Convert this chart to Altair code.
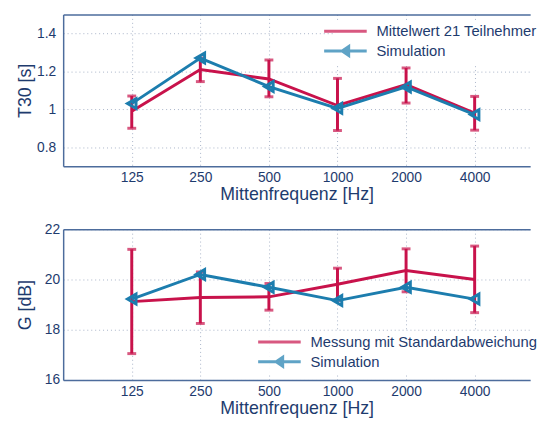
import altair as alt
import pandas as pd

# ---- data ----
freqs = [125, 250, 500, 1000, 2000, 4000]

t30_mean = [0.99, 1.21, 1.16, 1.02, 1.13, 0.98]
t30_lo = [0.90, 1.146, 1.066, 0.888, 1.033, 0.89]
t30_hi = [1.07, 1.27, 1.26, 1.163, 1.218, 1.068]
t30_sim = [1.03, 1.27, 1.12, 1.005, 1.118, 0.972]

g_mean = [19.12, 19.28, 19.31, 19.81, 20.36, 20.0]
g_lo = [17.05, 18.25, 18.78, 19.17, 19.51, 18.68]
g_hi = [21.2, 20.3, 19.84, 20.45, 21.22, 21.33]
g_sim = [19.22, 20.2, 19.69, 19.16, 19.69, 19.22]

top_names = ["Mittelwert 21 Teilnehmer", "Simulation"]
bot_names = ["Messung mit Standardabweichung", "Simulation"]

t30_ticks = [0.8, 1.0, 1.2, 1.4]
g_ticks = [16, 18, 20, 22]

# ---- style ----
RED = "#C8124B"
BLUE = "#1C7DAE"
TXT = "#1E3B6E"
AX = "#4D6C9C"
GRID = "#A9B4C8"
FONT = "Liberation Sans"

LINE_PATH = "M-3.6,0L3.6,0"
SIM_PATH = "M-3.6,0L3.6,0M-0.55,0L0.55,-0.75L0.55,0.75Z"

PW = 474
XDOM = [62.5, 7010]


def panel(mean, lo, hi, sim, names, ytitle, ydom, yticks, leg_x, leg_y, ylabpad, ph):
    df = pd.DataFrame({"f": freqs, "mean": mean, "lo": lo, "hi": hi, "sim": sim})
    xs = alt.Scale(type="log", domain=XDOM, nice=False)
    xa = alt.Axis(
        values=freqs, format="d", title="Mittenfrequenz [Hz]",
        labelPadding=5, minExtent=19, maxExtent=19, titlePadding=1,
    )
    xa_top = alt.Axis(orient="top", labels=False, ticks=False, grid=False, title=None,
                      minExtent=0, maxExtent=0)
    ys = alt.Scale(domain=ydom, nice=False, zero=False)
    ya = alt.Axis(values=yticks, format="~g", title=ytitle, labelPadding=ylabpad,
                  minExtent=25, maxExtent=25, titlePadding=4)

    def X(axis=None):
        return alt.X("f:Q", scale=xs, axis=axis)

    def Y(field):
        return alt.Y(f"{field}:Q", scale=ys, axis=ya)

    base = alt.Chart(df)
    err = base.mark_rule(color=RED, strokeWidth=3).encode(x=X(xa), y=Y("lo"), y2="hi:Q")
    cap_lo = base.mark_tick(color=RED, orient="horizontal", size=9, thickness=3).encode(x=X(), y=Y("lo"))
    cap_hi = base.mark_tick(color=RED, orient="horizontal", size=9, thickness=3).encode(x=X(), y=Y("hi"))
    mean_line = base.mark_line(color=RED, strokeWidth=3).encode(x=X(), y=Y("mean"))
    sim_line = base.mark_line(color=BLUE, strokeWidth=3).encode(x=X(xa_top), y=Y("sim"))
    sim_pts = base.mark_point(
        shape="triangle-left", filled=False, color=BLUE, strokeWidth=3, size=100, opacity=1
    ).encode(x=X(), y=Y("sim"))

    leg = dict(
        title=None,
        orient="none",
        legendX=leg_x,
        legendY=leg_y,
        symbolSize=144,
        symbolStrokeWidth=3,
        labelOffset=24,
        labelFontSize=15,
        labelColor=TXT,
        labelFont=FONT,
        labelLimit=400,
        rowPadding=1,
        padding=3,
        fillColor="white",
    )
    leg_df = pd.DataFrame({"series": names})
    legend = (
        alt.Chart(leg_df)
        .mark_point(filled=False, strokeWidth=3)
        .encode(
            color=alt.Color(
                "series:N",
                scale=alt.Scale(domain=names, range=[RED, BLUE]),
                legend=alt.Legend(**leg),
            ),
            shape=alt.Shape(
                "series:N",
                scale=alt.Scale(domain=names, range=[LINE_PATH, SIM_PATH]),
                legend=alt.Legend(**leg),
            ),
        )
        .transform_filter("false")
    )

    return (
        alt.layer(err, cap_lo, cap_hi, mean_line, sim_line, sim_pts, legend)
        .resolve_axis(x="independent")
        .properties(width=PW, height=ph)
    )


top = panel(t30_mean, t30_lo, t30_hi, t30_sim, top_names, "T30 [s]", [0.7, 1.5], t30_ticks,
            276, 6.5, 7.5, 154)
bot = panel(g_mean, g_lo, g_hi, g_sim, bot_names, "G [dB]", [16, 22], g_ticks,
            209, 104, 3.5, 153)

chart = (
    alt.vconcat(top, bot, spacing=19)
    .resolve_scale(color="independent", shape="independent")
    .resolve_legend(color="independent", shape="independent")
    .properties(padding={"left": 9, "top": 3.5, "right": 0, "bottom": -3})
    .configure_view(stroke=None)
    .configure_axis(
        domain=True,
        domainColor=AX,
        domainWidth=1.5,
        ticks=False,
        grid=True,
        gridColor=GRID,
        gridDash=[1, 3],
        gridWidth=1,
        labelFont=FONT,
        labelFontSize=14,
        labelColor=TXT,
        titleFont=FONT,
        titleFontSize=18,
        titleFontWeight="normal",
        titleColor=TXT,
    )
)

chart.save("out.html", embed_options={"renderer": "svg", "actions": False})
